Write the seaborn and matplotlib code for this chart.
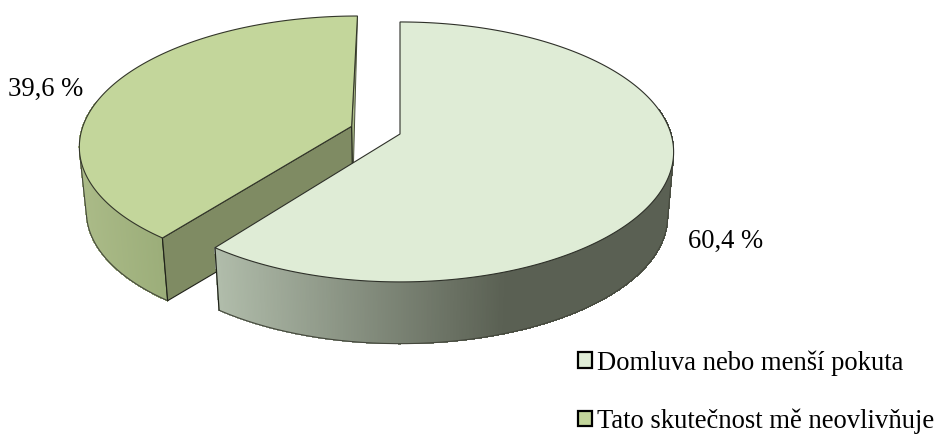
import numpy as np
import matplotlib
matplotlib.use("Agg")
import matplotlib.pyplot as plt
from matplotlib.patches import Polygon, Patch
from matplotlib.collections import PolyCollection
import seaborn as sns

# ---- data ----
categories = ["Domluva nebo menší pokuta", "Tato skutečnost mě neovlivňuje"]
shares = [60.4, 39.6]
top_colors = ["#DFECD6", "#C3D69B"]
wall_colors = [["#B1BDAB", "#5A6053"], ["#ABBB88", "#9BAD79"]]
cut_color = "#7F8B63"

sns.set_theme(style="white")
plt.rcParams["font.family"] = ["Liberation Serif", "DejaVu Serif"]

# ---- 3D projection model of the pie (image pixels) ----
CX, CY = 400.0, 134.0      # centre of the unexploded pie
RX, RY = 271.0, 127.5      # radius scale
PERSP = 0.138              # perspective strength
SHRINK = 0.978             # base plane is slightly smaller
DEPTH = 65.0               # wall height
EXPLODE = 0.19             # explosion of the second slice


def project(u, v, base=False):
    w = 1 + PERSP * v
    x = CX + RX * u / w
    y = CY - RY * v / w
    if base:
        x = CX + (x - CX) * SHRINK
        y = CY + (y - CY) * SHRINK + DEPTH
    return x, y


def slice_geometry(start, end, off):
    theta = np.radians(np.linspace(start, end, 720))
    return np.sin(theta) + off[0], np.cos(theta) + off[1]


def draw_wall(ax, u, v, colors, frac, zorder, near_end):
    """Swept outer wall; near_end is 0 or -1, the index of the slice's front corner."""
    xt, yt = project(u, v)
    xb, yb = project(u, v, base=True)
    quads = [[(xt[i], yt[i]), (xt[i + 1], yt[i + 1]), (xb[i + 1], yb[i + 1]), (xb[i], yb[i])]
             for i in range(len(u) - 1)]
    xmin, xmax = min(xt.min(), xb.min()), max(xt.max(), xb.max())
    pal = np.array(sns.blend_palette(colors, 256))
    t = np.clip(((xt[:-1] + xb[:-1]) / 2 - xmin) / (xmax - xmin) / frac, 0, 1)
    cols = pal[(t * 255).astype(int)]
    ax.add_collection(PolyCollection(quads, facecolors=cols, edgecolors=cols, linewidths=0.5,
                                     antialiaseds=False, zorder=zorder))
    # silhouette: where the curve runs parallel to the vertical offset
    dx, dy = np.gradient(xt), np.gradient(yt)
    cross = dx * (yb - yt) - dy * (xb - xt)
    k = np.argmin(np.abs(cross))
    idx = np.arange(0, k + 1) if near_end == 0 else np.arange(k, len(u))
    ax.plot(xb[idx], yb[idx], color="#44473C", lw=0.8, zorder=zorder + 1)
    ax.plot([xt[k], xb[k]], [yt[k], yb[k]], color="#44473C", lw=0.8, zorder=zorder + 1)
    ax.plot([xt[near_end], xb[near_end]], [yt[near_end], yb[near_end]], color="#20221A", lw=0.9, zorder=zorder + 1)


fig = plt.figure(figsize=(9.38, 4.34), dpi=100)
ax = fig.add_axes([0, 0, 1, 1])
ax.set_axis_off()

angles = np.cumsum([0] + [s * 3.6 for s in shares])

# --- exploded slice (drawn first, lies behind) ---
a0, a1 = angles[1], angles[2]
mid = np.radians((a0 + a1) / 2)
off = (EXPLODE * np.sin(mid), EXPLODE * np.cos(mid))
u, v = slice_geometry(a0, a1, off)
# visible sliver of the far cut face
tri = np.array([project(u[-1], v[-1]), project(off[0], off[1]), project(off[0], off[1], base=True)])
ax.add_patch(Polygon(tri, closed=True, fc=wall_colors[1][0], ec="#4A4F3C", lw=0.7, zorder=2))
# outer wall (only its front half shows)
front = v < off[1] + 0.2
draw_wall(ax, u[front], v[front], wall_colors[1], 1.0, 3, 0)
# near cut face
quad = np.array([project(u[0], v[0]), project(off[0], off[1]),
                 project(off[0], off[1], base=True), project(u[0], v[0], base=True)])
ax.add_patch(Polygon(quad, closed=True, fc=cut_color, ec="#20221A", lw=0.8, zorder=5))
# top
xt, yt = project(np.r_[off[0], u], np.r_[off[1], v])
ax.add_patch(Polygon(np.c_[xt, yt], closed=True, fc=top_colors[1], ec="#33362A", lw=0.8, zorder=6))

# --- large slice ---
a0, a1 = angles[0], angles[1]
u, v = slice_geometry(a0, a1, (0, 0))
front = v < 0.2
draw_wall(ax, u[front], v[front], wall_colors[0], 0.63, 7, -1)
xt, yt = project(np.r_[0, u], np.r_[0, v])
ax.add_patch(Polygon(np.c_[xt, yt], closed=True, fc=top_colors[0], ec="#2E3029", lw=0.8, zorder=9))

ax.set_xlim(0, 938)
ax.set_ylim(434, 0)

# --- data labels ---
fmt = lambda s: f"{s:.1f}".replace(".", ",") + " %"
ax.text(725.5, 241, fmt(shares[0]), ha="center", va="center", fontsize=19.2, color="black", zorder=12)
ax.text(46, 89, fmt(shares[1]), ha="center", va="center", fontsize=19.2, color="black", zorder=12)

# --- legend ---
handles = [Patch(fc=c, ec="black", lw=1.6) for c in top_colors]
ax.legend(handles, categories, loc="lower left", bbox_to_anchor=(578 / 938, 0),
          frameon=False, fontsize=19.2, handlelength=0.52, handleheight=0.52, handletextpad=0.2,
          labelspacing=1.235, borderaxespad=0, borderpad=0, labelcolor="black")

fig.savefig("out.png", dpi=100)
